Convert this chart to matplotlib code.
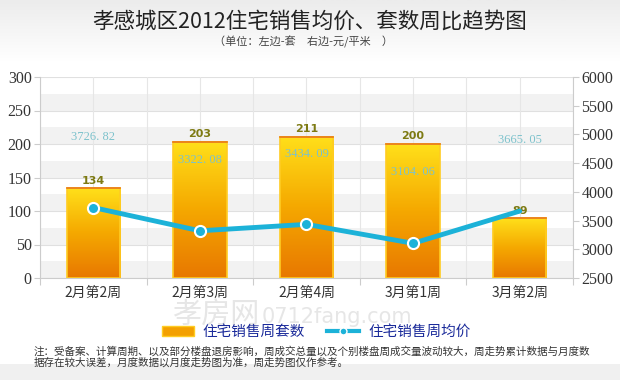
import numpy as np
import matplotlib
matplotlib.use("Agg")
import matplotlib.pyplot as plt
from matplotlib.patches import Rectangle, Patch
from matplotlib.lines import Line2D
from matplotlib.colors import LinearSegmentedColormap

plt.rcParams["font.family"] = ["Noto Sans CJK SC", "DejaVu Sans"]

weeks = ["2月第2周", "2月第3周", "2月第4周", "3月第1周", "3月第2周"]
counts = [134, 203, 211, 200, 89]
prices = [3726.82, 3322.08, 3434.09, 3104.06, 3665.05]
left_ticks = [0, 50, 100, 150, 200, 250, 300]
right_ticks = [2500, 3000, 3500, 4000, 4500, 5000, 5500, 6000]

title = "孝感城区2012住宅销售均价、套数周比趋势图"
subtitle = "（单位：左边-套　右边-元/平米　）"
note = ("注：受备案、计算周期、以及部分楼盘退房影响，周成交总量以及个别楼盘周成交量波动较大，周走势累计数据与月度数\n"
        "据存在较大误差，月度数据以月度走势图为准，周走势图仅作参考。")

W, H = 620, 380
fig = plt.figure(figsize=(W / 100, H / 100), dpi=100)
fig.patch.set_facecolor("white")

# header gradient
hdr = fig.add_axes([0, 1 - 62 / H, 1, 62 / H], zorder=-5)
hdr.imshow(np.linspace(0, 1, 50).reshape(-1, 1), aspect="auto",
           cmap=LinearSegmentedColormap.from_list("h", ["#ececec", "#ffffff"]),
           extent=[0, 1, 0, 1], origin="upper")
hdr.axis("off")
# bottom strip
fig.patches.append(Rectangle((0, 0), 1, 16 / H, transform=fig.transFigure,
                             facecolor="#f0f0f0", edgecolor="none", zorder=-5))

fig.text(0.5, 1 - 22 / H, title, ha="center", va="center", fontsize=15.5, color="#222222")
fig.text(0.49, 1 - 42 / H, subtitle, ha="center", va="center", fontsize=8, color="#444444")

ax = fig.add_axes([40 / W, 1 - 278 / H, 533 / W, 201 / H])
x = np.arange(len(weeks))
ax.set_xlim(-0.5, len(weeks) - 0.5)
ax.set_ylim(0, 300)

# alternating bands + grid
for lo in range(0, 300, 50):
    ax.axhspan(lo, lo + 25, color="#f2f2f2", zorder=0, lw=0)
for v in left_ticks:
    ax.axhline(v, color="#e0e0e0", lw=0.8, zorder=0.5)
for xv in np.arange(-0.5, len(weeks), 0.5):
    ax.axvline(xv, color="#e6e6e6", lw=0.8, zorder=0.5)

# gradient bars
cmap = LinearSegmentedColormap.from_list("bar", ["#e87800", "#f5a800", "#ffdf1a"])
grad = np.linspace(0, 1, 100).reshape(-1, 1)
bw = 0.5
for xi, c in zip(x, counts):
    ax.imshow(grad, aspect="auto", cmap=cmap, origin="lower",
              extent=[xi - bw / 2, xi + bw / 2, 0, c], zorder=2)
    ax.add_patch(Rectangle((xi - bw / 2, 0), bw, c, fill=False,
                           edgecolor="#ffcc22", lw=1.2, zorder=3))
    ax.plot([xi - bw / 2, xi + bw / 2], [c, c], color="#e8781a", lw=1.2, zorder=3)
    ax.text(xi, c + 4, str(c), ha="center", va="bottom", fontsize=8,
            fontweight="bold", color="#7d7a12", family="DejaVu Sans", zorder=6)
ax.set_xlim(-0.5, len(weeks) - 0.5)
ax.set_ylim(0, 300)

ax.set_xticks(np.arange(-0.5, len(weeks), 1.0), minor=False)
ax.set_xticklabels([])
ax.set_xticks(x, minor=True)
ax.set_xticklabels(weeks, minor=True, fontsize=10, color="#333333")
ax.tick_params(axis="x", which="major", length=5, color="#cccccc", direction="out")
ax.tick_params(axis="x", which="minor", length=0, pad=6)
ax.set_yticks(left_ticks)
ax.set_yticklabels([str(v) for v in left_ticks], family="Liberation Serif",
                   fontsize=11.5, color="#333333")
ax.tick_params(axis="y", length=4, color="#cccccc", pad=2)
for s in ["top", "right"]:
    ax.spines[s].set_visible(False)
for s in ["left", "bottom"]:
    ax.spines[s].set_color("#cccccc")

ax2 = ax.twinx()
ax2.set_ylim(2500, 6000)
ax2.plot(x, prices, color="#1cb2d8", lw=3.5, marker="o", markersize=8,
         markerfacecolor="#1cb2d8", markeredgecolor="white", markeredgewidth=1.5,
         markevery=[0, 1, 2, 3], zorder=4, solid_capstyle="round")
for xi, p in zip(x, prices):
    ax2.annotate(f"{p:.2f}".replace(".", ". "), (xi, p), xytext=(0, 51),
                 textcoords="offset points", ha="center", va="center",
                 fontsize=9, color="#7cc2cc", family="Liberation Serif")
ax2.set_yticks(right_ticks)
ax2.set_yticklabels([str(v) for v in right_ticks], family="Liberation Serif",
                    fontsize=11.5, color="#333333")
ax2.tick_params(axis="y", length=4, color="#cccccc", pad=2)
for s in ["top", "left", "bottom"]:
    ax2.spines[s].set_visible(False)
ax2.spines["right"].set_color("#cccccc")

# faint watermark
fig.text(172 / W, 1 - 316 / H, "孝房网", fontsize=21, color="#e6e6e6",
         va="center", ha="left", zorder=-1)
fig.text(262 / W, 1 - 317 / H, "0712fang.com", fontsize=15, color="#e6e6e6",
         va="center", ha="left", family="DejaVu Sans", zorder=-1)

handles = [Patch(facecolor="#f3a000", edgecolor="#ffcc22"),
           Line2D([0], [0], color="#1cb2d8", lw=3, marker="o", markersize=5,
                  markerfacecolor="#1cb2d8", markeredgecolor="white")]
leg = fig.legend(handles, ["住宅销售周套数", "住宅销售周均价"], ncol=2, frameon=False,
                 loc="center", bbox_to_anchor=(0.51, 1 - 332 / H), fontsize=10.5,
                 handlelength=2.2, columnspacing=1.5, handletextpad=0.6)
for t in leg.get_texts():
    t.set_color("#1a2a9a")

fig.text(34 / W, 1 - 357 / H, note, fontsize=7.6, color="#333333",
         va="center", ha="left", linespacing=1.0)

fig.savefig("out.png", dpi=100)
